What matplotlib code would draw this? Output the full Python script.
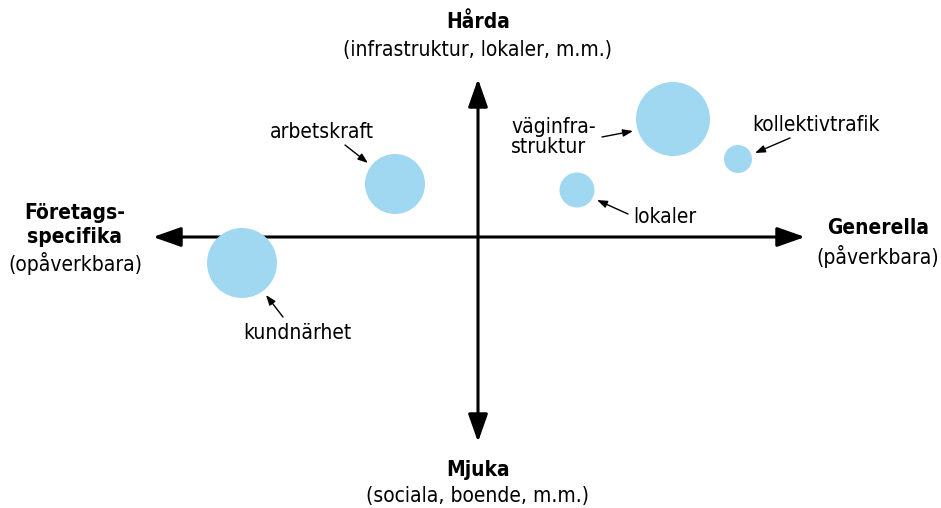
import matplotlib.pyplot as plt
from matplotlib.patches import Circle, FancyArrowPatch

plt.rcParams['font.family'] = ['DejaVu Sans']
plt.rcParams['font.stretch'] = 'condensed'

# bubbles: position relative to the axis crossing (x right, y up) and radius
names = ['arbetskraft', 'kundnärhet', 'väginfra-\nstruktur', 'kollektivtrafik', 'lokaler']
bx = [-83, -236, 195, 260, 99]
by = [53, -26, 118, 78, 47]
br = [30, 35, 37, 14, 17.5]

# label anchor and arrow (from -> to)
lx = [-156, -181, 33, 274, 155]
ly = [105, -96, 100, 112, 20]
lha = ['center', 'center', 'left', 'left', 'left']
ax0 = [-133, -195, 124, 312, 150]
ay0 = [92, -80, 100, 99, 23]
ax1 = [-110, -212, 155, 277, 119]
ay1 = [74, -58, 106, 84, 37]

bubble_color = '#a0d8f1'

fig = plt.figure(figsize=(9.41, 5.08), dpi=100)
ax = fig.add_axes([0, 0, 1, 1])
ax.set_xlim(-478, 463)
ax.set_ylim(-271, 237)
ax.axis('off')

# main axes
for (x0, y0, x1, y1) in [(-325, 0, 327, 0), (0, -205, 0, 158)]:
    ax.add_patch(FancyArrowPatch((x0, y0), (x1, y1),
                                 arrowstyle='<|-|>,head_length=17,head_width=6',
                                 mutation_scale=1, lw=2.2, color='black',
                                 shrinkA=0, shrinkB=0))

for i in range(len(names)):
    ax.add_patch(Circle((bx[i], by[i]), br[i], color=bubble_color, lw=0))
    ax.text(lx[i], ly[i], names[i], ha=lha[i], va='center', fontsize=15,
            linespacing=0.95)
    ax.add_patch(FancyArrowPatch((ax0[i], ay0[i]), (ax1[i], ay1[i]),
                                 arrowstyle='-|>,head_length=6,head_width=2.2',
                                 mutation_scale=1, lw=1, color='black',
                                 shrinkA=0, shrinkB=0))

bold = dict(fontsize=15, fontweight='bold', ha='center', va='center')
norm = dict(fontsize=15, ha='center', va='center')
ax.text(0, 215, 'Hårda', **bold)
ax.text(0, 187, '(infrastruktur, lokaler, m.m.)', **norm)
ax.text(0, -233, 'Mjuka', **bold)
ax.text(0, -259, '(sociala, boende, m.m.)', **norm)
ax.text(-403, 12, 'Företags-\nspecifika', linespacing=1.3, **bold)
ax.text(-403, -26, '(opåverkbara)', **norm)
ax.text(400, 9, 'Generella', **bold)
ax.text(400, -19, '(påverkbara)', **norm)

fig.savefig('out.png', dpi=100)
